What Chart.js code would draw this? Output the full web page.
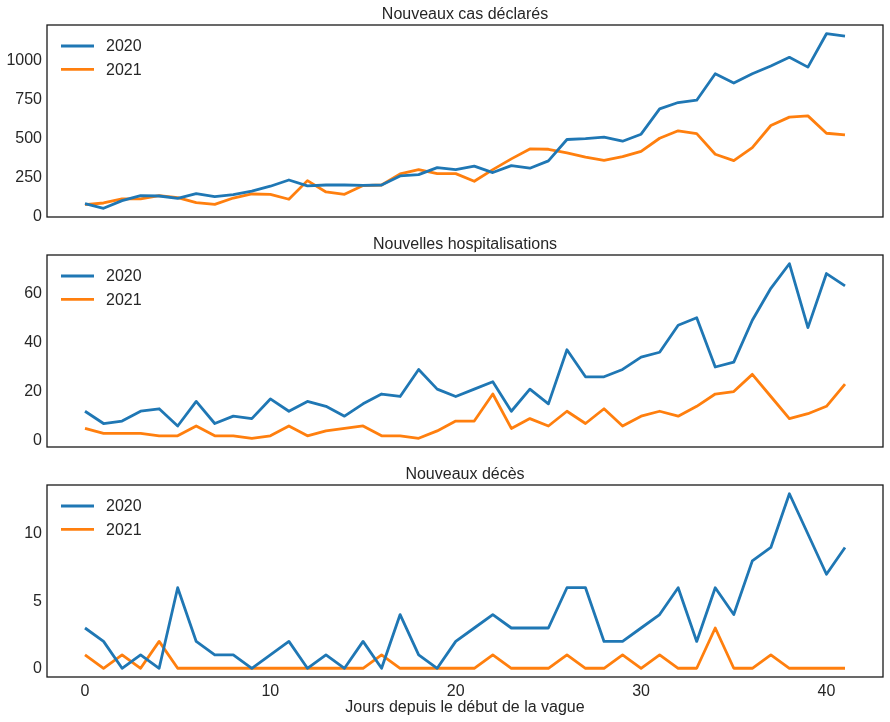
<!DOCTYPE html>
<html><head><meta charset="utf-8">
<script src="https://cdn.jsdelivr.net/npm/chart.js@4.4.1/dist/chart.umd.min.js"></script>
<style>
html,body{margin:0;padding:0;background:#fff;width:890px;height:722px;overflow:hidden}
canvas{position:absolute;left:0}
</style></head><body>
<canvas id="c1" width="890" height="230" style="top:0px;width:890px;height:230px"></canvas>
<canvas id="c2" width="890" height="230" style="top:230px;width:890px;height:230px"></canvas>
<canvas id="c3" width="890" height="262" style="top:460px;width:890px;height:262px"></canvas>
<script>
const days = [0,1,2,3,4,5,6,7,8,9,10,11,12,13,14,15,16,17,18,19,20,21,22,23,24,25,26,27,28,29,30,31,32,33,34,35,36,37,38,39,40,41];
const seriesLabels = ['2020', '2021'];
const panelTitles = ['Nouveaux cas déclarés', 'Nouvelles hospitalisations', 'Nouveaux décès'];
const xAxisTitle = 'Jours depuis le début de la vague';
const xTicks = [0, 10, 20, 30, 40];

const cases2020 = [82,52,101,133,131,116,146,127,140,163,194,234,196,202,202,200,202,260,269,314,301,323,282,327,310,357,495,501,510,484,529,692,733,748,918,858,918,968,1024,961,1176,1161];
const cases2021 = [75,86,112,112,133,120,88,77,118,144,142,110,230,157,142,198,202,273,301,275,275,226,301,370,434,432,409,381,361,385,419,503,551,533,400,359,443,585,639,647,535,525];
const casesTicks = [0, 250, 500, 750, 1000];

const hosp2020 = [12,7,8,12,13,6,16,7,10,9,17,12,16,14,10,15,19,18,29,21,18,21,24,12,21,15,37,26,26,29,34,36,47,50,30,32,49,62,72,46,68,63];
const hosp2021 = [5,3,3,3,2,2,6,2,2,1,2,6,2,4,5,6,2,2,1,4,8,8,19,5,9,6,12,7,13,6,10,12,10,14,19,20,27,18,9,11,14,23];
const hospTicks = [0, 20, 40, 60];

const deaths2020 = [3,2,0,1,0,6,2,1,1,0,1,2,0,1,0,2,0,4,1,0,2,3,4,3,3,3,6,6,2,2,3,4,6,2,6,4,8,9,13,10,7,9];
const deaths2021 = [1,0,1,0,2,0,0,0,0,0,0,0,0,0,0,0,1,0,0,0,0,0,1,0,0,0,1,0,0,1,0,1,0,0,3,0,0,1,0,0,0,0];
const deathsTicks = [0, 5, 10];

const colors = ['#1f77b4', '#ff7f0e'];
const FONT = '"Liberation Sans", Arial, sans-serif';
const FS = 16;
const TXT = '#262626';
const LW = 2.8;

function pts(arr) { return arr.map((v, i) => ({x: days[i], y: v})); }
function margins(arrs) {
  const all = [].concat(...arrs);
  const lo = Math.min(...all), hi = Math.max(...all), r = hi - lo;
  return {min: lo - 0.05 * r, max: hi + 0.05 * r};
}
const xr = margins([days]);

const decorPlugin = {
  id: 'decor',
  afterDraw(chart, args, opts) {
    const {ctx, chartArea: a} = chart;
    ctx.save();
    ctx.strokeStyle = '#1a1a1a';
    ctx.lineWidth = 1.3;
    ctx.strokeRect(a.left, a.top, a.right - a.left, a.bottom - a.top);
    ctx.fillStyle = TXT;
    ctx.font = FS + 'px ' + FONT;
    ctx.textAlign = 'center';
    ctx.textBaseline = 'middle';
    ctx.fillText(opts.title, (a.left + a.right) / 2, a.top - 10.5);
    ctx.textAlign = 'left';
    chart.data.datasets.forEach((ds, i) => {
      const y = a.top + 21 + i * 23.3;
      ctx.strokeStyle = ds.borderColor;
      ctx.lineWidth = LW;
      ctx.beginPath();
      ctx.moveTo(a.left + 14, y);
      ctx.lineTo(a.left + 47, y);
      ctx.stroke();
      ctx.fillStyle = TXT;
      ctx.fillText(ds.label, a.left + 59, y + 1);
    });
    ctx.restore();
  }
};

function makeChart(id, s1, s2, yTicks, title, showX) {
  const yr = margins([s1, s2]);
  return new Chart(document.getElementById(id), {
    type: 'line',
    data: {
      datasets: [
        {label: seriesLabels[0], data: pts(s1), borderColor: colors[0], backgroundColor: colors[0]},
        {label: seriesLabels[1], data: pts(s2), borderColor: colors[1], backgroundColor: colors[1]}
      ]
    },
    options: {
      responsive: false,
      animation: false,
      devicePixelRatio: 1,
      layout: {padding: {left: 0, right: 7, top: 25, bottom: showX ? 0 : 13}},
      elements: {
        line: {borderWidth: LW, tension: 0, borderJoinStyle: 'round', borderCapStyle: 'butt'},
        point: {radius: 0, hoverRadius: 0}
      },
      plugins: {legend: {display: false}, tooltip: {enabled: false}, title: {display: false}, decor: {title: title}},
      scales: {
        x: {
          type: 'linear',
          display: showX,
          min: xr.min, max: xr.max,
          grid: {display: false, drawTicks: false},
          border: {display: false},
          afterBuildTicks: s => { s.ticks = xTicks.map(v => ({value: v})); },
          afterFit: s => { if (showX) { s.height = 45; } s.paddingLeft = 0; s.paddingRight = 0; },
          ticks: {color: TXT, font: {family: FONT, size: FS}, padding: 5, maxRotation: 0, autoSkip: false,
                  callback: v => String(v)},
          title: {display: showX, text: xAxisTitle, color: TXT, font: {family: FONT, size: FS}, padding: {top: 0, bottom: 5}}
        },
        y: {
          type: 'linear',
          min: yr.min, max: yr.max,
          grid: {display: false, drawTicks: false},
          border: {display: false},
          afterBuildTicks: s => { s.ticks = yTicks.map(v => ({value: v})); },
          afterFit: s => { s.width = 47; s.paddingTop = 0; s.paddingBottom = 0; },
          ticks: {color: TXT, font: {family: FONT, size: FS}, padding: 5, autoSkip: false,
                  callback: v => String(v)}
        }
      }
    },
    plugins: [decorPlugin]
  });
}

makeChart('c1', cases2020, cases2021, casesTicks, panelTitles[0], false);
makeChart('c2', hosp2020, hosp2021, hospTicks, panelTitles[1], false);
makeChart('c3', deaths2020, deaths2021, deathsTicks, panelTitles[2], true);
</script>
</body></html>
